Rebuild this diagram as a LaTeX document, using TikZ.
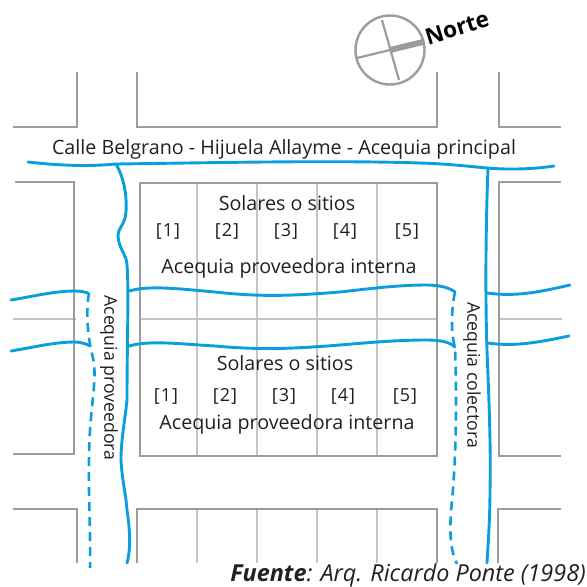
\documentclass[tikz,border=0pt]{standalone}
\usepackage{fontspec}
\setmainfont{Open Sans}
\definecolor{ink}{HTML}{231F20}
\definecolor{acq}{HTML}{0A9FDC}
\definecolor{blk}{HTML}{9C9C9C}
\definecolor{lot}{HTML}{C4C4C4}
\tikzset{
  block/.style={draw=blk,line width=2.8pt,line join=miter},
  lotline/.style={draw=lot,line width=2pt},
  water/.style={draw=acq,line width=2.9pt,line cap=round},
  dashwater/.style={draw=acq,line width=2.6pt,dash pattern=on 9pt off 6pt},
  lbl/.style={text=ink,font=\fontsize{19.7}{22}\selectfont,inner sep=0pt},
  vlbl/.style={text=ink,font=\fontsize{17.7}{20}\selectfont,inner sep=0pt,rotate=-90},
  num/.style={text=ink,font=\fontsize{18}{21}\selectfont,inner sep=0pt}
}
\begin{document}
\begin{tikzpicture}[x=1pt,y=-1pt]
\useasboundingbox (0,0) rectangle (587,587);
% lot lines
\foreach \x in {197,257,317,377}{
  \draw[lotline] (\x,183)--(\x,456);
  \draw[lotline] (\x,509)--(\x,563);
}
\draw[lotline] (140,319)--(437,319);
\draw[lotline] (13,319)--(76,319);
\draw[lotline] (499,319)--(562,319);
% blocks
\draw[block] (13,127)--(77,127)--(77,72);
\draw[block] (137,72)--(137,127)--(437,127)--(437,72);
\draw[block] (499,72)--(499,127)--(561,127);
\draw[block] (15,182)--(74,182)--(74,454)--(13,454);
\draw[block] (140,183) rectangle (437,456);
\draw[block] (561,182)--(499,182)--(499,456)--(561,456);
\draw[block] (13,509)--(77,509)--(77,563);
\draw[block] (137,563)--(137,509)--(437,509)--(437,563);
\draw[block] (561,509)--(498,509)--(498,563);
% water
\draw[water] (28,162) .. controls (55,165) and (85,167) .. (116,164)
  .. controls (200,163) and (330,160) .. (420,163)
  .. controls (450,164) and (465,166) .. (487,168)
  .. controls (510,170) and (535,169) .. (554,166);
\draw[water] (116,164) .. controls (124,178) and (127,195) .. (126,212)
  .. controls (125,225) and (118,228) .. (118,235)
  .. controls (118,248) and (127,255) .. (127,265)
  .. controls (129,290) and (127,340) .. (127,400)
  .. controls (125,420) and (121,440) .. (121,460)
  .. controls (122,480) and (126,495) .. (127,510)
  .. controls (130,530) and (131,548) .. (127,563);
\draw[water] (488,168) .. controls (486,220) and (485,290) .. (487,350)
  .. controls (489,400) and (491,450) .. (490,490)
  .. controls (490,520) and (488,545) .. (487,563);
\draw[water] (129,291) .. controls (150,285) and (180,289) .. (215,292)
  .. controls (260,297) and (290,296) .. (340,292)
  .. controls (375,288) and (400,285) .. (427,285)
  .. controls (440,285) and (450,288) .. (455,292);
\draw[water] (129,346) .. controls (150,340) and (180,344) .. (215,346)
  .. controls (260,350) and (290,349) .. (340,345)
  .. controls (375,342) and (400,340) .. (427,340)
  .. controls (440,340) and (450,342) .. (455,347);
\draw[water] (11,300) .. controls (35,296) and (55,291) .. (75,291) .. controls (80,291) and (85,292) .. (88,293);
\draw[water] (11,351) .. controls (35,347) and (55,342) .. (75,342) .. controls (80,342) and (87,344) .. (90,346);
\draw[water] (487,293) .. controls (515,297) and (540,292) .. (570,285);
\draw[water] (488,343) .. controls (515,347) and (540,342) .. (569,336);
\draw[dashwater] (89,293) .. controls (86,310) and (87,335) .. (93,358)
  .. controls (97,375) and (92,400) .. (90,430)
  .. controls (87,480) and (91,530) .. (90,568);
\draw[dashwater] (455,292) .. controls (451,310) and (451,335) .. (455,347)
  .. controls (457,400) and (456,460) .. (452,500)
  .. controls (449,530) and (450,550) .. (457,564);
% compass
\draw[draw=blk,line width=2.4pt] (390,50) circle (34.5);
\draw[draw=blk,line width=2.2pt] (357,58)--(423,42);
\draw[draw=blk,line width=2.2pt] (382,20)--(399,80);
\draw[draw=blk,line width=6pt] (390,50)--(423,42);
\node[text=black,rotate=17,inner sep=0pt,font=\fontsize{22.5}{24}\selectfont\bfseries] (norte) at (457,28) {Norte};
% labels
\node[lbl] (calle) at (284,149) {Calle Belgrano - Hijuela Allayme - Acequia principal};
\node[lbl] (sol1) at (287,203) {Solares o sitios};
\node[lbl] (int1) at (289,268) {Acequia proveedora interna};
\node[lbl] (sol2) at (285,363) {Solares o sitios};
\node[lbl] (int2) at (287,424) {Acequia proveedora interna};
\node[vlbl] (prov) at (109,378) {Acequia proveedora};
\node[vlbl] (cole) at (472,375) {Acequia colectora};
\foreach \t/\x in {1/168,2/227,3/286,4/345,5/407}{
  \node[num] (a\t) at (\x,231) {[\kern1pt\t\kern1pt]};
}
\foreach \t/\x in {1/166,2/225,3/284,4/343,5/405}{
  \node[num] (b\t) at (\x,396) {[\kern1pt\t\kern1pt]};
}
\node[text=ink,anchor=east,inner sep=0pt,font=\fontsize{23.4}{25}\selectfont\itshape] (src) at (586,575) {\textbf{Fuente}: Arq. Ricardo Ponte (1998)};
\end{tikzpicture}
\end{document}
